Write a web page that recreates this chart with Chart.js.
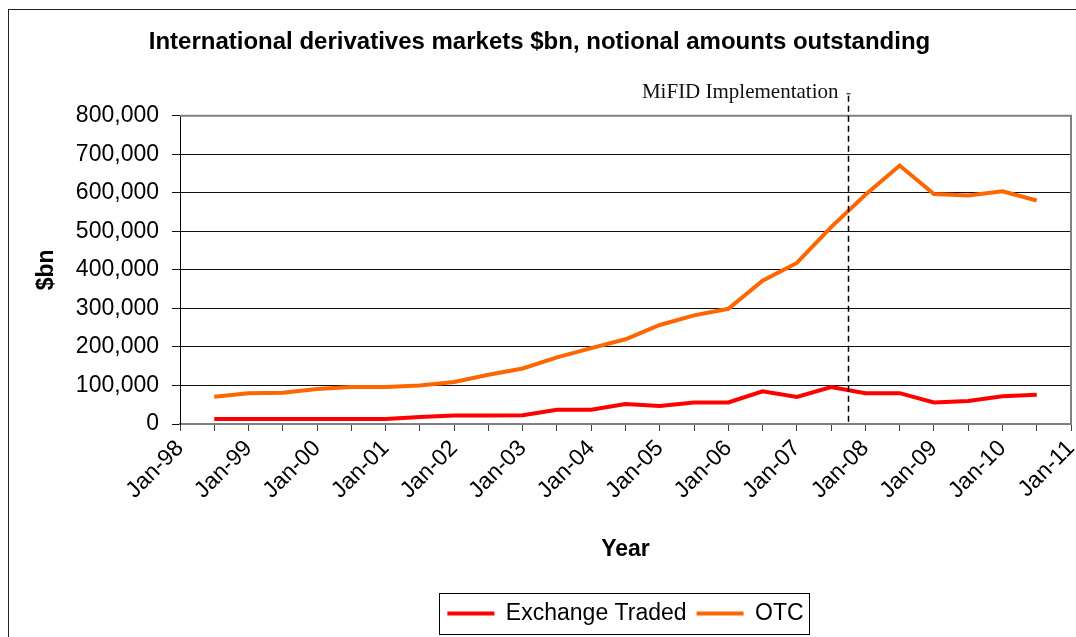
<!DOCTYPE html>
<html>
<head>
<meta charset="utf-8">
<script src="https://cdn.jsdelivr.net/npm/chart.js@4.4.1/dist/chart.umd.min.js"></script>
<style>
  body { margin: 0; background: #fff; }
  #wrap { width: 1076px; height: 637px; }
</style>
</head>
<body>
<div id="wrap"><canvas id="chart" width="1076" height="637"></canvas></div>
<script>
// half-year observations (BIS style, Jun / Dec)
const periods = ['Jun-98','Dec-98','Jun-99','Dec-99','Jun-00','Dec-00','Jun-01','Dec-01',
                 'Jun-02','Dec-02','Jun-03','Dec-03','Jun-04','Dec-04','Jun-05','Dec-05',
                 'Jun-06','Dec-06','Jun-07','Dec-07','Jun-08','Dec-08','Jun-09','Dec-09','Jun-10'];
const exchangeTraded = [13000,13000,13000,13000,13000,13000,18000,22000,
                        22000,23000,37000,37000,52000,47000,56000,56000,
                        85000,70000,96000,80000,80000,56000,60000,72000,76000];
const otc = [71000,80000,81000,91000,96000,96000,100000,109000,
             128000,144000,173000,197000,220000,257000,282000,299000,
             372000,418000,511000,595000,671000,597000,593000,604000,580000];
const tickLabels = ['Jan-98','Jan-99','Jan-00','Jan-01','Jan-02','Jan-03','Jan-04',
                    'Jan-05','Jan-06','Jan-07','Jan-08','Jan-09','Jan-10','Jan-11'];
const firstYear = 1998;
const mifidDate = 2007.75;
const mifidLabel = 'MiFID Implementation';

// 'Jun-98' -> 1998.5, 'Dec-98' -> 1999.0
function periodToX(p) {
  const yy = parseInt(p.slice(4), 10);
  const year = yy < 50 ? 2000 + yy : 1900 + yy;
  return p.startsWith('Jun') ? year + 0.5 : year + 1;
}
function toPoints(values) {
  return values.map((v, i) => ({ x: periodToX(periods[i]), y: v }));
}

const sans = "'Liberation Sans', Arial, sans-serif";

const framePlugin = {
  id: 'frame',
  beforeDraw(chart) {
    const ctx = chart.ctx;
    ctx.save();
    ctx.fillStyle = '#fff';
    ctx.fillRect(0, 0, chart.width, chart.height);
    ctx.strokeStyle = '#222';
    ctx.lineWidth = 1;
    ctx.strokeRect(8.5, 9.5, 1100, 700);
    ctx.restore();
  },
  afterDraw(chart) {
    const ctx = chart.ctx;
    const a = chart.chartArea;
    ctx.save();
    // top and right edges of the plot area
    ctx.strokeStyle = '#808080';
    ctx.lineWidth = 2;
    ctx.beginPath();
    ctx.moveTo(a.left, a.top);
    ctx.lineTo(a.right, a.top);
    ctx.lineTo(a.right, a.bottom);
    ctx.stroke();

    // MiFID marker
    const x = Math.round(chart.scales.x.getPixelForValue(mifidDate)) + 0.5;
    ctx.strokeStyle = '#000';
    ctx.lineWidth = 1.5;
    ctx.setLineDash([6, 4]);
    ctx.beginPath();
    ctx.moveTo(x, a.top - 20);
    ctx.lineTo(x, a.bottom);
    ctx.stroke();
    ctx.setLineDash([]);
    ctx.lineWidth = 1;
    ctx.beginPath();
    ctx.moveTo(x - 2, a.top - 22);
    ctx.lineTo(x + 2, a.top - 22);
    ctx.stroke();
    ctx.fillStyle = '#111';
    ctx.font = "21px 'Liberation Serif', 'Times New Roman', serif";
    ctx.textAlign = 'right';
    ctx.textBaseline = 'alphabetic';
    ctx.fillText(mifidLabel, x - 10, a.top - 18);

    // legend box
    const boxes = chart.legend.legendHitBoxes;
    if (boxes && boxes.length) {
      const l = Math.min(...boxes.map(b => b.left)) - 8;
      const r = Math.max(...boxes.map(b => b.left + b.width)) + 6;
      const t = Math.min(...boxes.map(b => b.top)) - 9;
      const bm = Math.max(...boxes.map(b => b.top + b.height)) + 9;
      ctx.strokeStyle = '#000';
      ctx.lineWidth = 1;
      ctx.strokeRect(Math.round(l) + 0.5, Math.round(t) + 0.5, Math.round(r - l), Math.round(bm - t));
    }
    ctx.restore();
  }
};

new Chart(document.getElementById('chart'), {
  type: 'line',
  data: {
    datasets: [
      { label: 'Exchange Traded', data: toPoints(exchangeTraded), borderColor: '#ff0000',
        backgroundColor: '#ff0000', borderWidth: 4, pointRadius: 0, tension: 0 },
      { label: 'OTC', data: toPoints(otc), borderColor: '#ff6600',
        backgroundColor: '#ff6600', borderWidth: 4, pointRadius: 0, tension: 0 }
    ]
  },
  options: {
    responsive: false,
    animation: false,
    layout: { padding: { left: 8, right: 5, top: 0, bottom: 2 } },
    plugins: {
      tooltip: { enabled: false },
      title: {
        display: true,
        text: 'International derivatives markets $bn, notional amounts outstanding',
        color: '#000',
        font: { family: sans, size: 24, weight: 'bold' },
        padding: { top: 28, bottom: 59 }
      },
      legend: {
        position: 'bottom',
        fullSize: false,
        labels: {
          usePointStyle: true,
          pointStyle: 'line',
          pointStyleWidth: 47,
          color: '#000',
          font: { family: sans, size: 23 },
          padding: 10
        }
      }
    },
    scales: {
      x: {
        type: 'linear',
        min: firstYear,
        max: firstYear + tickLabels.length - 1,
        afterFit(scale) { scale.height = 168; scale.paddingRight = 0; scale.paddingLeft = 0; },
        border: { display: true, color: '#808080', width: 2 },
        grid: { drawOnChartArea: false, drawTicks: true, tickLength: 7, color: '#444' },
        ticks: {
          stepSize: 0.5,
          autoSkip: false,
          maxRotation: 45,
          minRotation: 45,
          padding: 4,
          color: '#000',
          font: { family: sans, size: 23 },
          callback: (v) => Number.isInteger(v) ? tickLabels[v - firstYear] : ''
        },
        title: {
          display: true,
          text: 'Year',
          color: '#000',
          font: { family: sans, size: 23, weight: 'bold' },
          padding: { top: 0, bottom: 29 }
        }
      },
      y: {
        min: 0,
        max: 800000,
        afterFit(scale) { scale.width = 172; },
        border: { display: true, color: '#000', width: 1 },
        grid: { color: '#111', lineWidth: 1, tickLength: 8 },
        ticks: {
          stepSize: 100000,
          padding: 13,
          color: '#000',
          font: { family: sans, size: 23 },
          callback: (v) => v.toLocaleString('en-US')
        },
        title: {
          display: true,
          text: '$bn',
          color: '#000',
          font: { family: sans, size: 23, weight: 'bold' },
          padding: { top: 25, bottom: 0 }
        }
      }
    }
  },
  plugins: [framePlugin]
});
</script>
</body>
</html>
